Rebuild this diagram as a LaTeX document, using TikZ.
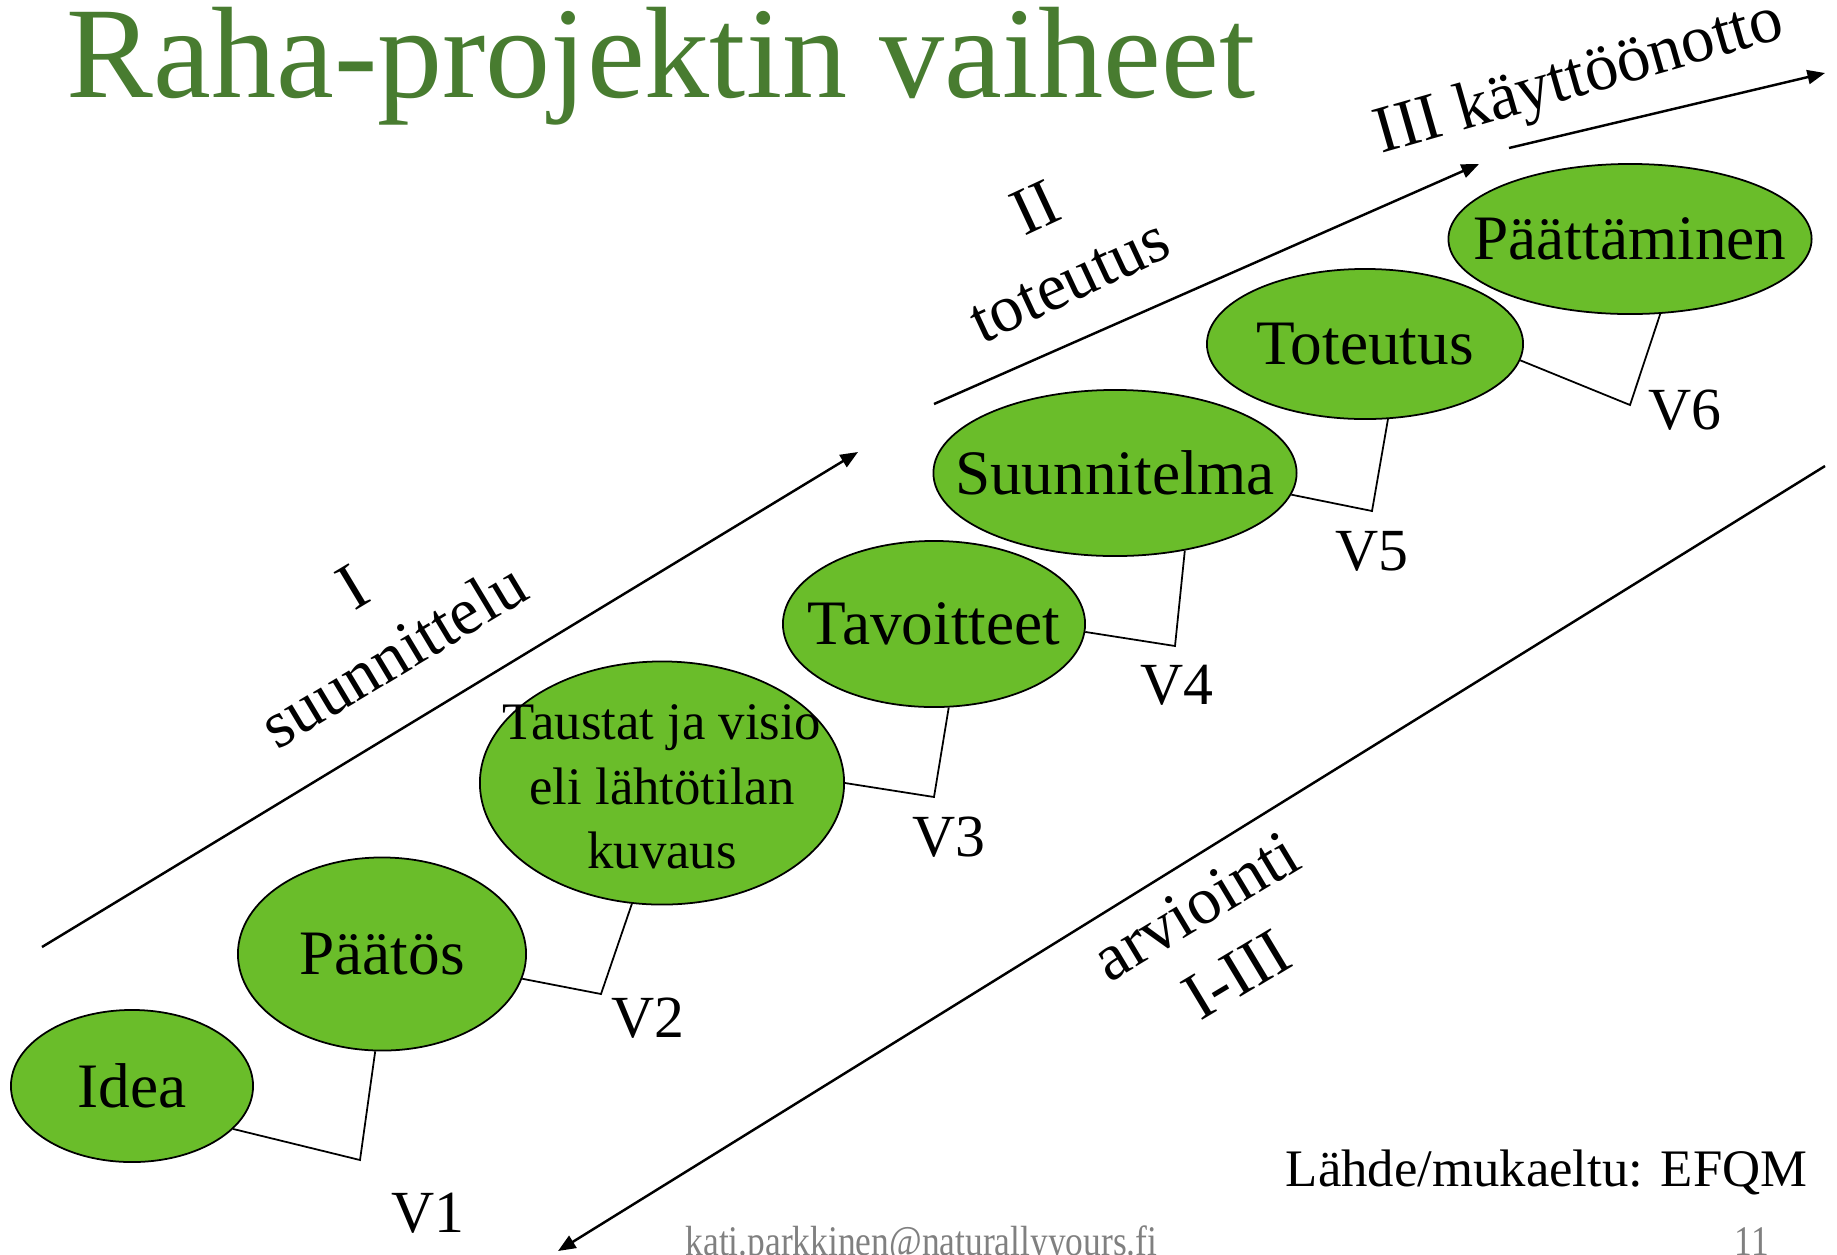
\documentclass[tikz,border=0pt]{standalone}
\usepackage{fontspec}
\setmainfont{Liberation Serif}
\usepackage{xcolor}
\usepackage{tikz}
\usetikzlibrary{positioning, arrows.meta, shapes.geometric}

\definecolor{leaf}{RGB}{106,189,42}
\definecolor{headgreen}{RGB}{72,124,48}

\begin{document}
\begin{tikzpicture}[x=0.01cm, y=-0.01cm,
  phase/.style={ellipse, draw, fill=leaf, line width=0.5pt, inner sep=0pt, font=\fontsize{18}{21}\selectfont},
  gate/.style={font=\fontsize{17}{20}\selectfont},
  stage/.style={align=center, font=\fontsize{19}{22.7}\selectfont},
  flow/.style={line width=0.7pt, -{Triangle[length=5pt,width=4pt]}},
  foot/.style={text=gray, inner sep=0pt, font=\fontsize{12}{14}\selectfont, xscale=0.84}]
\clip (0,0) rectangle (1837,1254);

\node(title)[anchor=base west, inner sep=0pt, text=headgreen, font=\fontsize{37}{40}\selectfont] at (66,97) {Raha-projektin vaiheet};

% phases
\node(idea)[phase, minimum width=2.42cm, minimum height=1.52cm] at (132,1086) {\makebox[0pt]{Idea}};
\node(paatos)[phase, minimum width=2.88cm, minimum height=1.93cm] at (382,954) {\makebox[0pt]{Päätös}};
\node(taustat)[phase, minimum width=3.64cm, minimum height=2.43cm] at (662,783)
  {\smash{\makebox[0pt]{\raisebox{-0.21cm}{\fontsize{15}{18.3}\selectfont\begin{tabular}{@{}c@{}}Taustat ja visio\\eli lähtötilan\\kuvaus\end{tabular}}}}};
\node(tavoitteet)[phase, minimum width=3.02cm, minimum height=1.66cm] at (934,624) {\makebox[0pt]{Tavoitteet}};
\node(suunnitelma)[phase, minimum width=3.63cm, minimum height=1.66cm] at (1115,473) {\makebox[0pt]{Suunnitelma}};
\node(toteutus)[phase, minimum width=3.16cm, minimum height=1.50cm] at (1365,344) {\makebox[0pt]{Toteutus}};
\node(paattaminen)[phase, minimum width=3.63cm, minimum height=1.50cm] at (1630,239) {\makebox[0pt]{Päättäminen}};

% check points
\coordinate(c1) at (360,1160);
\coordinate(c2) at (601,994);
\coordinate(c3) at (934,797);
\coordinate(c4) at (1175,646);
\coordinate(c5) at (1372,511);
\coordinate(c6) at (1630,405);

\draw[line width=0.5pt] (idea.-23) -- (c1) -- (paatos.-94);
\draw[line width=0.5pt] (paatos.-10) -- (c2) -- (taustat.-104);
\draw[line width=0.5pt] (taustat.0) -- (c3) -- (tavoitteet.-80);
\draw[line width=0.5pt] (tavoitteet.-3) -- (c4) -- (suunnitelma.-48);
\draw[line width=0.5pt] (suunnitelma.-7) -- (c5) -- (toteutus.-73);
\draw[line width=0.5pt] (toteutus.-6) -- (c6) -- (paattaminen.-68);

\node(v1)[gate] at (428,1213) {V1};
\node(v2)[gate] at (648,1018) {V2};
\node(v3)[gate] at (949,837) {V3};
\node(v4)[gate] at (1177,685) {V4};
\node(v5)[gate] at (1372,551) {V5};
\node(v6)[gate] at (1685,410) {V6};

% arrows
\coordinate(a1) at (42,947);
\coordinate(b1) at (858,452);
\coordinate(a2) at (934,404);
\coordinate(b2) at (1479,164);
\coordinate(a3) at (1509,148);
\coordinate(b3) at (1825,73);
\coordinate(a4) at (1825,466);
\coordinate(b4) at (558,1251);
\draw[flow] (a1) -- (b1);
\draw[flow] (a2) -- (b2);
\draw[flow] (a3) -- (b3);
\draw[flow] (a4) -- (b4);

\node(suunnittelu)[stage, rotate=31] at (373,621) {I\\suunnittelu};
\node(toteutus2)[stage, rotate=25] at (1052,244) {II\\toteutus};
\node(kaytto)[stage, rotate=16] at (1580,80) {III käyttöönotto};
\node(arviointi)[stage, rotate=31] at (1216,940) {arviointi\\I-III};

\node(lahde)[anchor=base east, inner sep=0pt, font=\fontsize{15}{18}\selectfont] at (1808,1186) {Lähde/mukaeltu: EFQM};

\node(mail)[foot, anchor=base west] at (685,1255) {kati.parkkinen@naturallyyours.fi};
\node(page)[foot, anchor=base west] at (1734,1255) {11};
\end{tikzpicture}
\end{document}
